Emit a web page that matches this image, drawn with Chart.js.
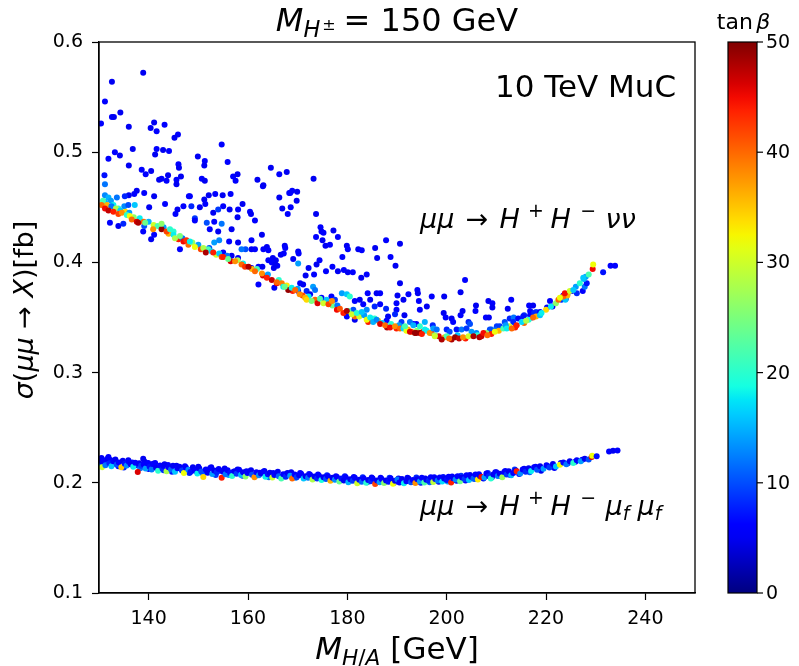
<!DOCTYPE html>
<html>
<head>
<meta charset="utf-8">
<script src="https://cdn.jsdelivr.net/npm/chart.js@4.4.1/dist/chart.umd.min.js"></script>
<style>
  html, body { margin: 0; padding: 0; background: #fff; }
  #wrap { width: 799px; height: 666px; }
</style>
</head>
<body>
<div id="wrap"><canvas id="scan" width="799" height="666"></canvas></div>
<script>
// axis ticks
const xTicks = [140, 160, 180, 200, 220, 240];
const yTicks = [0.1, 0.2, 0.3, 0.4, 0.5, 0.6];
const cbTicks = [0, 10, 20, 30, 40, 50];

// [M_H/A (GeV), sigma (fb), tan beta]
// mu mu -> H+ H- nu nu : spread of points above the lower edge
const upperCloud = [
  [138.9,0.572,5],[132.6,0.564,5],[131.2,0.546,6],[134.3,0.536,5],[132.6,0.532,6],[133.0,0.532,5],[130.4,0.526,6],[141.1,0.527,5],[143.2,0.525,6],[140.4,0.522,5],
  [141.6,0.519,6],[136.0,0.523,5],[145.9,0.516,6],[145.2,0.513,5],[154.7,0.507,6],[136.8,0.503,5],[133.2,0.500,6],[134.2,0.497,5],[141.6,0.503,6],[142.9,0.502,5],
  [144.1,0.501,6],[141.3,0.498,5],[131.9,0.494,6],[149.9,0.496,5],[151.3,0.492,6],[151.2,0.488,5],[155.9,0.491,6],[136.0,0.488,5],[146.0,0.489,6],[146.1,0.486,5],
  [138.6,0.484,6],[140.5,0.483,5],[139.4,0.480,6],[164.6,0.486,5],[166.3,0.480,6],[167.8,0.482,5],[131.1,0.479,7],[143.9,0.479,5],[142.6,0.476,6],[142.1,0.475,5],
  [143.6,0.474,6],[146.5,0.478,5],[145.6,0.475,6],[145.6,0.471,5],[150.7,0.476,6],[151.3,0.474,5],[157.0,0.478,6],[157.9,0.480,5],[157.5,0.474,6],[161.9,0.475,5],
  [163.0,0.469,6],[137.6,0.465,5],[137.1,0.462,6],[136.0,0.461,5],[135.2,0.460,8],[139.1,0.463,6],[141.1,0.460,5],[148.1,0.460,6],[152.1,0.461,5],[153.4,0.462,6],
  [154.9,0.461,5],[156.5,0.462,6],[166.3,0.459,5],[168.3,0.463,6],
  [173.2,0.476,5],[168.9,0.465,6],[169.9,0.464,5],[168.5,0.463,6],[169.8,0.456,5],[168.6,0.450,6],[166.9,0.449,5],[168.0,0.444,6],[173.7,0.444,5],[174.6,0.432,6],
  [174.8,0.428,5],[175.2,0.427,6],[177.2,0.429,5],[173.7,0.423,6],[175.0,0.420,5],[178.1,0.423,6],[175.6,0.415,5],[176.5,0.416,6],[179.9,0.415,5],[180.1,0.412,6],
  [182.2,0.412,5],[182.9,0.411,6],[185.6,0.413,5],[187.8,0.420,6],[190.6,0.417,5],[179.0,0.405,6],[186.0,0.404,5],[188.7,0.405,6],[189.7,0.397,5],[174.4,0.402,6],
  [173.8,0.398,5],[177.0,0.396,6],[172.2,0.395,5],[175.7,0.392,6],[178.1,0.392,5],[179.3,0.393,6],[180.1,0.391,5],[181.1,0.391,6],[182.8,0.386,5],[183.9,0.389,6],
  [190.6,0.381,5],[203.7,0.384,6],[202.8,0.373,5],[197.0,0.369,6],[199.5,0.369,5],[194.1,0.375,6],[194.2,0.372,5],[192.3,0.371,6],[190.1,0.370,5],[184.1,0.372,6],
  [185.9,0.372,5],[186.6,0.372,6],[170.1,0.410,5],[170.2,0.408,6],[167.4,0.415,5],[167.5,0.413,6],[166.6,0.407,5],[167.2,0.408,6],
  [165.6,0.402,5],[164.9,0.402,6],[169.1,0.403,5],[165.9,0.397,6],[165.2,0.395,5],[170.1,0.399,14],[173.3,0.389,6],[171.6,0.388,5],
  [194.4,0.365,6],[196.0,0.360,5],[194.6,0.357,6],[191.5,0.352,5],[193.3,0.344,6],[199.4,0.354,5],[199.8,0.350,6],[201.0,0.349,5],[201.3,0.346,6],[203.2,0.356,5],
  [202.8,0.352,6],[205.9,0.361,5],[205.8,0.356,6],[208.4,0.365,5],[209.2,0.363,6],[209.2,0.359,5],[207.9,0.350,6],[208.5,0.350,5],[213.0,0.366,6],[212.3,0.358,5],
  [204.4,0.346,8],[204.7,0.344,10],[210.1,0.342,9],[209.0,0.339,12],[211.7,0.346,10],[212.7,0.349,8],[213.5,0.350,12],[216.6,0.361,6],[217.4,0.361,5],[216.8,0.356,6],
  [215.6,0.352,8],[217.1,0.350,6],[218.0,0.355,9],[218.5,0.353,12],[220.2,0.359,6],[221.3,0.360,5],[220.8,0.365,6],[223.1,0.366,8],[224.0,0.367,10],[223.5,0.370,6],
  [224.3,0.371,9],[225.2,0.374,6],[226.2,0.372,8],[227.4,0.374,6],[227.8,0.378,12],[228.2,0.381,7],[227.6,0.385,15],
  [233.0,0.397,6],[233.9,0.397,6],[231.5,0.391,7],
  [131.2,0.471,12],[163.1,0.470,5],[131.2,0.461,13],[131.9,0.459,15],[133.6,0.459,12],[148.3,0.460,6],[151.2,0.457,5],
  [131.2,0.455,15],[132.4,0.456,14],[132.9,0.452,18],[133.9,0.449,20],[135.1,0.451,13],[135.9,0.452,10],[137.2,0.452,16],
  [143.3,0.453,6],[140.1,0.450,5],[147.0,0.451,6],[145.8,0.448,5],[145.4,0.444,6],[148.6,0.451,8],[150.3,0.450,5],[151.4,0.453,6],[153.0,0.445,5],[154.0,0.448,9],
  [155.0,0.451,6],[156.3,0.448,5],[158.0,0.448,6],[158.9,0.453,5],[160.4,0.446,6],[160.6,0.444,5],
  [161.4,0.438,6],[157.9,0.441,5],[149.3,0.440,9],[149.3,0.438,6],[151.7,0.436,10],[153.2,0.437,6],[154.7,0.435,12],[156.7,0.430,5],
  [152.3,0.430,6],[154.0,0.428,5],[156.2,0.419,6],[158.0,0.418,5],[160.7,0.420,6],[162.8,0.425,5],[163.1,0.412,6],[163.8,0.414,5],[164.1,0.411,6],[160.7,0.412,5],
  [159.5,0.412,10],[161.4,0.412,6],[158.7,0.412,12],
  [132.2,0.436,6],[133.9,0.433,5],[134.9,0.435,8],[138.9,0.428,6],[140.5,0.421,5],[141.1,0.425,6],[139.1,0.433,10],
  [144.5,0.427,16],[145.0,0.428,20],[153.2,0.418,14],[154.2,0.420,13],[152.2,0.413,10],[146.3,0.412,6],
  [155.0,0.409,6],[156.7,0.406,5],[158.0,0.404,6],[160.7,0.395,5],[162.1,0.396,6],[162.9,0.396,5],[162.1,0.380,6],[165.3,0.377,5],
  [164.1,0.402,6],[165.0,0.404,5],[164.8,0.400,6],[165.5,0.398,5],
  [173.1,0.378,14],[173.5,0.375,12],[170.5,0.381,6],[171.1,0.380,5],[170.1,0.374,6],[171.8,0.374,8],[172.5,0.371,5],[174.8,0.368,6],[175.5,0.365,5],[176.8,0.369,6],
  [177.5,0.366,9],[178.9,0.372,14],[179.9,0.371,16],[180.5,0.369,20],[181.5,0.365,6],[182.5,0.366,5],[183.2,0.362,6],[184.6,0.366,5],[185.5,0.360,8],[186.6,0.362,6],
  [181.2,0.357,10],[183.9,0.357,13],[187.8,0.358,8],[179.9,0.351,6],[181.5,0.348,5],[182.2,0.353,9],
  [189.9,0.363,6],[191.3,0.366,5],[189.9,0.357,6],[188.2,0.351,5],[189.6,0.353,8],[187.9,0.347,6],[190.9,0.346,9],[192.6,0.346,12],[193.9,0.344,6],[195.6,0.346,15],
  [197.2,0.343,8],[200.0,0.339,8],[200.6,0.337,10],[202.0,0.339,7],[203.0,0.339,12],[204.0,0.340,9],[206.0,0.336,13],[208.7,0.339,10],[210.1,0.339,11],[210.7,0.342,9],
  [213.4,0.346,8],[214.4,0.349,6],[215.4,0.351,7],[216.8,0.352,6],[217.6,0.354,8],[218.8,0.355,6]
];

// mu mu -> H+ H- nu nu : the dense lower edge, all tan beta values
const upperEdge = [
  [130.8,0.456,22],[131.6,0.452,36],[132.5,0.451,12],[133.4,0.449,28],[134.3,0.447,16],[135.3,0.446,34],[136.1,0.445,14],[137.0,0.441,26],[138.2,0.440,18],[139.0,0.437,40],
  [140.0,0.437,15],[141.0,0.434,30],[141.8,0.433,22],[143.0,0.432,14],[144.0,0.426,36],[145.0,0.425,18],[146.0,0.421,44],[146.8,0.422,12],[148.0,0.416,40],[148.8,0.418,26],
  [150.0,0.416,14],[150.5,0.412,42],[152.0,0.412,22],[153.6,0.407,30],[154.2,0.408,16],[155.8,0.406,12],[156.5,0.401,46],[157.9,0.402,28],[159.0,0.399,18],[160.8,0.394,36],
  [161.8,0.394,22],[163.0,0.388,46],[164.0,0.389,14],[166.2,0.384,20],[167.8,0.379,33],[169.0,0.374,44],[170.0,0.376,14],[171.0,0.370,42],[172.2,0.369,18],[173.5,0.366,40],
  [174.0,0.363,46],[175.8,0.366,16],[177.0,0.361,24],[178.0,0.361,12],[179.2,0.354,44],[180.2,0.356,22],[181.5,0.351,40],[182.4,0.351,30],[183.4,0.352,14],[184.2,0.346,44],
  [185.5,0.349,20],[186.2,0.347,36],[187.0,0.345,16],[188.0,0.341,48],[188.8,0.344,20],[189.9,0.340,44],[190.4,0.343,14],[192.2,0.339,36],[194.0,0.338,26],[195.2,0.337,42],
  [196.0,0.338,18],[197.0,0.336,44],[198.4,0.333,46],[199.6,0.332,36],[200.0,0.333,22],[201.0,0.330,48],[202.2,0.334,16],[203.8,0.331,44],[205.0,0.334,36],[206.2,0.334,20],
  [206.6,0.332,48],[208.0,0.336,26],[209.0,0.335,44],[210.5,0.338,36],[211.4,0.340,22],[212.6,0.342,30],[213.8,0.341,44],[215.6,0.345,40],[216.5,0.348,20],[218.0,0.351,36],
  [218.8,0.352,16],[220.0,0.357,34],[221.0,0.360,18],[222.0,0.363,26],[222.5,0.366,40],[223.9,0.366,16],[224.3,0.370,36],[226.0,0.378,14],[226.8,0.381,20],[228.0,0.387,14],
  [228.6,0.389,22],
  [130.5,0.452,40],[131.2,0.449,45],[131.9,0.447,47],[132.9,0.446,44],[133.9,0.444,42],[134.6,0.445,38],[135.6,0.443,20],[136.2,0.442,32],[136.6,0.439,40],[137.6,0.437,46],
  [137.9,0.436,48],[139.3,0.436,24],[140.9,0.430,38],[142.6,0.430,49],[143.6,0.428,42],[142.6,0.435,26],[144.3,0.430,20],[145.3,0.422,28],[146.3,0.424,25],[147.0,0.419,45],
  [147.6,0.420,43],[148.3,0.419,18],[149.3,0.414,32],[151.0,0.413,28],[151.5,0.409,48],[152.7,0.410,17],[153.0,0.409,44],[154.7,0.405,42],[155.0,0.405,44],[156.0,0.403,24],
  [157.4,0.401,38],[158.7,0.398,40],[159.4,0.396,43],[160.1,0.396,48],[161.4,0.392,40],[162.8,0.390,38],[163.8,0.386,44],[164.8,0.384,47],[165.8,0.381,45],[166.8,0.381,39],
  [167.1,0.378,18],[165.8,0.382,40],[168.1,0.375,49],[167.4,0.378,24],[168.8,0.377,18],[169.5,0.375,40],[170.4,0.371,38],[171.5,0.368,36],[171.8,0.366,34],[172.8,0.365,25],
  [174.5,0.367,22],[175.2,0.363,30],[176.2,0.362,42],[176.9,0.365,38],[177.9,0.357,45],[178.5,0.358,41],[179.9,0.356,48],[180.9,0.353,30],[181.9,0.354,20],[182.9,0.355,16],
  [183.9,0.348,32],[184.6,0.350,18],[185.2,0.346,15],[185.9,0.348,13],[186.6,0.344,46],[187.6,0.343,40],[188.6,0.341,45],[189.6,0.342,38],[190.6,0.340,40],[191.3,0.340,17],
  [191.9,0.338,32],[192.9,0.337,40],[193.9,0.336,48],[194.6,0.336,49],[195.6,0.339,18],[196.6,0.336,38],[197.6,0.334,25],[192.6,0.337,46],[193.6,0.336,49],[195.0,0.335,44],
  [191.6,0.342,22],[193.3,0.343,15],[194.6,0.342,20],[197.3,0.340,14],[198.0,0.339,12],[205.0,0.337,14],[211.9,0.343,14],
  [197.6,0.333,30],[199.0,0.330,48],[200.5,0.331,40],[201.7,0.332,49],[202.5,0.331,47],[203.3,0.332,38],[204.4,0.333,30],[205.4,0.333,48],
  [207.0,0.333,47],[207.4,0.336,45],[208.2,0.334,40],[209.7,0.337,32],[212.1,0.340,18],[213.1,0.340,40],[214.1,0.343,44],[215.1,0.346,17],[216.0,0.347,28],[217.4,0.350,40],
  [219.1,0.354,18],[223.5,0.369,40],[223.8,0.372,45],[222.8,0.368,32],[224.8,0.374,30],[225.5,0.375,16],[227.5,0.386,16],[229.4,0.394,45],[229.5,0.398,32]
];

// mu mu -> H+ H- mu_f mu_f
const lowerBand = [
  [130.4,0.2200,7],[131.5,0.2185,9],[132.3,0.2208,5],[133.0,0.2172,11],[133.9,0.2150,6],[135.0,0.2138,8],[135.9,0.2205,5],[136.7,0.2185,7],[137.6,0.2160,6],[138.3,0.2132,12],
  [139.2,0.2190,5],[140.0,0.2125,6],[141.3,0.2180,6],[142.1,0.2142,5],[143.0,0.2115,9],[143.9,0.2162,6],[144.7,0.2100,7],[145.6,0.2155,5],[146.5,0.2125,15],[147.3,0.2150,6],
  [148.2,0.2090,8],[149.0,0.2125,6],[150.0,0.2145,5],[150.9,0.2085,12],[151.7,0.2108,6],[152.6,0.2140,5],[153.5,0.2070,9],[154.4,0.2110,6],[155.3,0.2130,5],[156.1,0.2070,14],
  [157.0,0.2098,6],[157.9,0.2120,5],[158.9,0.2065,8],[159.7,0.2105,6],[160.6,0.2115,5],[161.5,0.2062,10],[162.4,0.2092,6],[163.3,0.2108,5],[164.2,0.2050,12],[165.1,0.2090,6],
  [166.0,0.2100,5],[166.9,0.2052,9],[167.8,0.2085,6],[168.7,0.2095,5],[169.6,0.2045,13],[170.5,0.2090,6],[171.4,0.2052,5],[172.3,0.2080,7],[173.2,0.2045,10],[174.1,0.2075,6],
  [175.0,0.2040,5],[175.9,0.2068,8],[176.8,0.2032,12],[177.7,0.2060,6],[178.6,0.2025,5],[179.5,0.2060,7],[180.4,0.2015,11],[181.3,0.2052,6],[182.2,0.2010,5],[183.1,0.2050,8],
  [184.0,0.2005,6],[184.9,0.2048,5],[185.8,0.2002,10],[186.7,0.2045,6],[187.6,0.2008,5],[188.5,0.2045,9],[189.4,0.2000,6],[190.3,0.2040,5],[191.2,0.2005,12],[192.1,0.2045,6],
  [193.0,0.2010,5],[193.9,0.2048,8],[194.8,0.2000,6],[195.7,0.2040,5],[196.6,0.2005,11],[197.5,0.2050,6],[198.4,0.2010,5],[199.3,0.2052,7],[200.2,0.2012,14],[201.1,0.2058,6],
  [202.0,0.2018,5],[202.9,0.2065,9],[203.8,0.2022,6],[204.7,0.2070,5],[205.6,0.2035,10],[206.5,0.2078,6],[207.4,0.2040,5],[208.3,0.2090,8],[209.1,0.2050,6],[210.0,0.2095,5],
  [210.9,0.2060,12],[211.8,0.2108,6],[212.8,0.2070,5],[213.7,0.2120,9],[214.6,0.2080,6],[215.6,0.2128,5],[216.7,0.2095,11],[217.9,0.2145,6],[219.0,0.2110,5],[220.4,0.2150,8],
  [221.7,0.2135,6],[223.0,0.2180,5],[224.4,0.2178,9],[225.9,0.2190,6],[227.3,0.2210,5],
  [130.2,0.2215,6],[130.2,0.2168,14],[130.5,0.2225,5],[130.6,0.2190,5],[130.6,0.2142,30],[131.0,0.2205,6],[131.3,0.2160,12],[131.8,0.2222,5],[131.9,0.2234,6],[132.1,0.2178,8],
  [132.5,0.2150,16],[132.9,0.2196,6],[133.3,0.2212,5],[133.6,0.2165,10],[134.0,0.2185,6],[134.5,0.2140,35],[134.8,0.2200,5],[135.2,0.2172,7],[135.6,0.2156,13],[136.0,0.2190,6],
  [136.4,0.2168,5],[136.9,0.2145,18],[137.3,0.2183,6],[137.8,0.2098,46],[138.1,0.2178,5],[138.5,0.2155,9],[138.9,0.2218,5],[139.0,0.2165,6],[139.4,0.2130,14],[139.8,0.2175,5],
  [139.9,0.2180,6],[140.2,0.2145,7],[140.6,0.2120,12],[140.9,0.2173,5],[141.0,0.2168,6],[141.5,0.2136,5],[141.9,0.2110,20],[142.3,0.2158,6],[142.8,0.2128,8],[142.9,0.2155,6],
  [143.2,0.2168,5],[143.6,0.2105,28],[144.0,0.2140,6],[144.5,0.2120,11],[144.9,0.2155,5],[145.3,0.2100,16],[145.8,0.2132,6],[146.2,0.2145,5],[146.7,0.2112,9],[147.1,0.2088,32],
  [147.5,0.2138,6],[148.0,0.2118,13],[148.4,0.2098,7],[148.9,0.2142,5],[149.3,0.2110,6],[149.8,0.2085,18],[150.2,0.2130,5],[150.6,0.2102,10],[151.0,0.2053,34],[151.5,0.2120,6],
  [151.9,0.2092,5],[152.4,0.2135,6],[152.8,0.2080,14],[153.2,0.2112,5],[153.7,0.2095,8],[154.1,0.2125,6],[154.7,0.2045,44],[155.0,0.2100,5],[155.5,0.2078,12],[155.9,0.2115,6],
  [156.4,0.2090,7],[156.8,0.2062,20],[157.3,0.2105,5],[157.7,0.2082,9],[158.2,0.2118,6],[158.6,0.2070,15],[159.0,0.2095,5],[159.5,0.2058,26],[159.9,0.2088,6],[160.4,0.2105,5],
  [160.8,0.2072,10],[161.3,0.2050,38],[161.7,0.2095,6],[162.2,0.2068,13],[162.6,0.2085,5],[163.1,0.2100,6],[163.5,0.2055,18],[164.0,0.2078,7],[164.4,0.2092,5],[164.9,0.2048,30],
  [165.3,0.2070,6],[165.8,0.2085,5],[166.2,0.2060,11],[166.7,0.2040,22],[167.1,0.2078,6],[167.6,0.2055,8],[168.0,0.2090,5],[168.5,0.2065,14],[168.9,0.2040,40],[169.4,0.2075,6],
  [169.8,0.2050,9],[170.3,0.2068,5],[170.7,0.2082,6],[171.2,0.2038,16],[171.6,0.2060,5],[172.1,0.2045,12],[172.5,0.2072,6],[173.0,0.2030,28],[173.4,0.2058,5],[173.9,0.2040,8],
  [174.3,0.2065,6],[174.8,0.2025,19],[175.2,0.2050,5],[175.7,0.2035,10],[176.1,0.2060,6],[176.6,0.2018,36],[177.0,0.2045,5],[177.5,0.2028,13],[177.9,0.2052,6],[178.4,0.2012,24],
  [178.8,0.2040,7],[179.3,0.2022,5],[179.7,0.2048,6],[180.2,0.2005,15],[180.6,0.2032,5],[181.1,0.2018,9],[181.5,0.2045,6],[182.0,0.1995,30],[182.4,0.2028,5],[182.9,0.2010,11],
  [183.3,0.2038,6],[183.8,0.2000,20],[184.2,0.2025,5],[184.7,0.2015,8],[185.1,0.2040,6],[185.6,0.1990,42],[186.0,0.2020,5],[186.5,0.2005,14],[186.9,0.2035,6],[187.4,0.1998,26],
  [187.8,0.2022,5],[188.3,0.2010,7],[188.7,0.2042,6],[189.2,0.1992,32],[189.6,0.2018,5],[190.1,0.2030,12],[190.5,0.2002,6],[191.0,0.2035,5],[191.4,0.1995,18],[191.9,0.2015,6],
  [192.3,0.2040,5],[192.8,0.2005,10],[193.2,0.2025,6],[193.7,0.1998,38],[194.1,0.2032,5],[194.6,0.2012,14],[195.0,0.2045,6],[195.5,0.2003,22],[195.9,0.2028,5],[196.4,0.2018,8],
  [196.8,0.2050,6],[197.3,0.2008,29],[197.7,0.2035,5],[198.2,0.2020,12],[198.6,0.2048,6],[199.1,0.2012,17],[199.5,0.2038,5],[200.0,0.2025,7],[200.4,0.2055,6],[200.9,0.2002,44],
  [201.3,0.2042,5],[201.8,0.2030,13],[202.2,0.2060,6],[202.7,0.2015,24],[203.1,0.2048,5],[203.6,0.2035,9],[204.0,0.2068,6],[204.5,0.2025,16],[204.9,0.2055,5],[205.4,0.2040,11],
  [205.8,0.2075,6],[206.3,0.2030,33],[206.7,0.2062,5],[207.0,0.2053,45],[207.6,0.2048,14],[208.0,0.2085,6],[208.5,0.2060,8],[208.9,0.2040,20],[209.4,0.2075,5],[209.8,0.2095,6],
  [210.3,0.2062,12],[210.7,0.2082,5],[211.2,0.2050,27],[211.6,0.2098,6],[212.1,0.2075,9],[212.5,0.2105,5],[213.0,0.2068,15],[213.4,0.2090,6],[213.9,0.2112,5],[214.1,0.2104,44],
  [214.8,0.2085,13],[215.3,0.2120,6],[215.9,0.2100,8],[216.5,0.2132,5],[217.0,0.2108,18],[217.6,0.2140,6],[218.2,0.2118,10],[218.8,0.2150,5],[219.5,0.2128,14],[220.1,0.2160,6],
  [220.7,0.2138,9],[221.4,0.2170,5],[222.0,0.2148,16],[222.8,0.2164,32],[223.5,0.2185,6],[224.1,0.2168,12],[224.8,0.2195,5],[225.5,0.2180,20],[226.2,0.2205,6],[227.0,0.2195,14],
  [227.8,0.2218,5],[228.6,0.2212,10],[229.2,0.2234,46],[229.3,0.2246,32],[230.2,0.2240,7],[232.7,0.2285,6],[233.5,0.2290,5],[234.4,0.2292,6]
];

const TB_MAX = 50;
const FONT = '"DejaVu Sans", sans-serif';

// matplotlib 'jet' segment data
function jet(v) {
  v = Math.min(1, Math.max(0, v));
  const seg = pts => {
    for (let i = 1; i < pts.length; i++) {
      if (v <= pts[i][0]) {
        const [x0, y0] = pts[i - 1], [x1, y1] = pts[i];
        return y0 + (y1 - y0) * (v - x0) / (x1 - x0);
      }
    }
    return pts[pts.length - 1][1];
  };
  const r = seg([[0, 0], [0.35, 0], [0.66, 1], [0.89, 1], [1, 0.5]]);
  const g = seg([[0, 0], [0.125, 0], [0.375, 1], [0.64, 1], [0.91, 0], [1, 0]]);
  const b = seg([[0, 0.5], [0.11, 1], [0.34, 1], [0.65, 0], [1, 0]]);
  return `rgb(${Math.round(r * 255)},${Math.round(g * 255)},${Math.round(b * 255)})`;
}

function toPoints(rows) {
  return rows.map(r => ({ x: r[0], y: r[1], t: r[2] }));
}

function scatterSet(rows, order) {
  return {
    data: toPoints(rows),
    order,
    pointRadius: 3,
    pointHoverRadius: 3,
    pointBorderWidth: 0,
    backgroundColor: ctx => jet((ctx.raw ? ctx.raw.t : 0) / TB_MAX),
    borderColor: 'rgba(0,0,0,0)'
  };
}

// text with italic pieces, sub- and superscripts
// seg: { t, i: italic, s: size factor, dy: shift in em (positive = down), gap: extra space after, in em }
function richWidth(ctx, segs, size) {
  let w = 0;
  segs.forEach(sg => {
    ctx.font = `${sg.i ? 'italic ' : ''}${size * (sg.s || 1)}px ${FONT}`;
    w += ctx.measureText(sg.t).width + (sg.gap || 0) * size;
  });
  return w;
}

function drawRich(ctx, segs, x, y, size, align) {
  const w = richWidth(ctx, segs, size);
  let cx = align === 'center' ? x - w / 2 : x;
  ctx.textAlign = 'left';
  ctx.textBaseline = 'alphabetic';
  segs.forEach(sg => {
    ctx.font = `${sg.i ? 'italic ' : ''}${size * (sg.s || 1)}px ${FONT}`;
    ctx.fillText(sg.t, cx, y + (sg.dy || 0) * size);
    cx += ctx.measureText(sg.t).width + (sg.gap || 0) * size;
  });
}

const overlay = {
  id: 'overlay',
  afterDraw(chart) {
    const ctx = chart.ctx;
    const a = chart.chartArea;
    ctx.save();
    ctx.fillStyle = '#000';
    ctx.strokeStyle = '#000';

    // frame
    ctx.lineWidth = 1.3;
    ctx.strokeRect(a.left, a.top, a.right - a.left, a.bottom - a.top);

    // title
    drawRich(ctx, [
      { t: 'M', i: true },
      { t: 'H', i: true, s: 0.7, dy: 0.2, gap: 0.06 },
      { t: '\u00b1', s: 0.5, dy: -0.02, gap: 0.25 },
      { t: '= 150 GeV' }
    ], (a.left + a.right) / 2, 31, 32, 'center');

    // x title
    drawRich(ctx, [
      { t: 'M', i: true },
      { t: 'H', i: true, s: 0.7, dy: 0.2 },
      { t: '/', s: 0.7, dy: 0.2 },
      { t: 'A', i: true, s: 0.7, dy: 0.2 },
      { t: ' [GeV]' }
    ], (a.left + a.right) / 2, 659, 31, 'center');

    // y title
    ctx.save();
    ctx.translate(33, 310);
    ctx.rotate(-Math.PI / 2);
    drawRich(ctx, [
      { t: '\u03c3', i: true },
      { t: '(' },
      { t: '\u03bc\u03bc', i: true },
      { t: ' \u2192 ' },
      { t: 'X', i: true },
      { t: ')' },
      { t: '[fb]' }
    ], 0, 0, 27, 'center');
    ctx.restore();

    // annotations
    drawRich(ctx, [{ t: '10 TeV MuC' }], 495, 97, 31, 'left');
    const hh = [
      { t: '\u03bc\u03bc', i: true, gap: 0.1 },
      { t: ' \u2192 ', gap: 0.1 },
      { t: 'H', i: true, gap: 0.3 },
      { t: '+', s: 0.7, dy: -0.42, gap: 0.25 },
      { t: 'H', i: true, gap: 0.35 },
      { t: '\u2212', s: 0.7, dy: -0.42, gap: 0.35 }
    ];
    drawRich(ctx, hh.concat([{ t: '\u03bd\u03bd', i: true }]), 420, 228, 27, 'left');
    drawRich(ctx, hh.concat([
      { t: '\u03bc', i: true },
      { t: 'f', i: true, s: 0.7, dy: 0.2, gap: 0.3 },
      { t: '\u03bc', i: true },
      { t: 'f', i: true, s: 0.7, dy: 0.2 }
    ]), 420, 515, 27, 'left');

    // colour bar
    const cb = { left: 728, right: 757, top: a.top, bottom: a.bottom };
    const grad = ctx.createLinearGradient(0, cb.bottom, 0, cb.top);
    for (let i = 0; i <= 40; i++) grad.addColorStop(i / 40, jet(i / 40));
    ctx.fillStyle = grad;
    ctx.fillRect(cb.left, cb.top, cb.right - cb.left, cb.bottom - cb.top);
    ctx.lineWidth = 1.2;
    ctx.strokeRect(cb.left, cb.top, cb.right - cb.left, cb.bottom - cb.top);
    ctx.fillStyle = '#000';
    ctx.font = `19px ${FONT}`;
    ctx.textAlign = 'left';
    ctx.textBaseline = 'middle';
    cbTicks.forEach(v => {
      const y = cb.bottom - (cb.bottom - cb.top) * v / TB_MAX;
      ctx.beginPath();
      ctx.moveTo(cb.right, y);
      ctx.lineTo(cb.right + 6, y);
      ctx.stroke();
      ctx.fillText(String(v), cb.right + 9, y + 1);
    });
    drawRich(ctx, [{ t: 'tan', gap: 0.15 }, { t: '\u03b2', i: true }],
      (cb.left + cb.right) / 2 + 1, 29, 22, 'center');

    ctx.restore();
  }
};

const tickFont = { family: FONT, size: 19 };

new Chart(document.getElementById('scan'), {
  type: 'scatter',
  data: {
    datasets: [
      scatterSet(upperEdge, 1),
      scatterSet(upperCloud, 2),
      scatterSet(lowerBand, 3)
    ]
  },
  options: {
    responsive: false,
    animation: false,
    devicePixelRatio: 1,
    layout: { padding: { top: 42, right: 104, bottom: 0, left: 0 } },
    plugins: { legend: { display: false }, tooltip: { enabled: false } },
    scales: {
      x: {
        type: 'linear',
        min: 130,
        max: 250,
        afterBuildTicks: s => { s.ticks = xTicks.map(v => ({ value: v })); },
        afterFit: s => { s.height = 73; },
        ticks: { font: tickFont, color: '#000', padding: 8, maxRotation: 0 },
        grid: { drawOnChartArea: false, drawTicks: true, tickLength: 7, tickWidth: 1.2, tickColor: '#000' },
        border: { display: true, color: '#000', width: 1.3 }
      },
      y: {
        type: 'linear',
        min: 0.1,
        max: 0.6,
        afterBuildTicks: s => { s.ticks = yTicks.map(v => ({ value: v })); },
        afterFit: s => { s.width = 99; },
        ticks: { font: tickFont, color: '#000', padding: 9, callback: v => v.toFixed(1) },
        grid: { drawOnChartArea: false, drawTicks: true, tickLength: 7, tickWidth: 1.2, tickColor: '#000' },
        border: { display: true, color: '#000', width: 1.3 }
      }
    }
  },
  plugins: [overlay]
});
</script>
</body>
</html>
